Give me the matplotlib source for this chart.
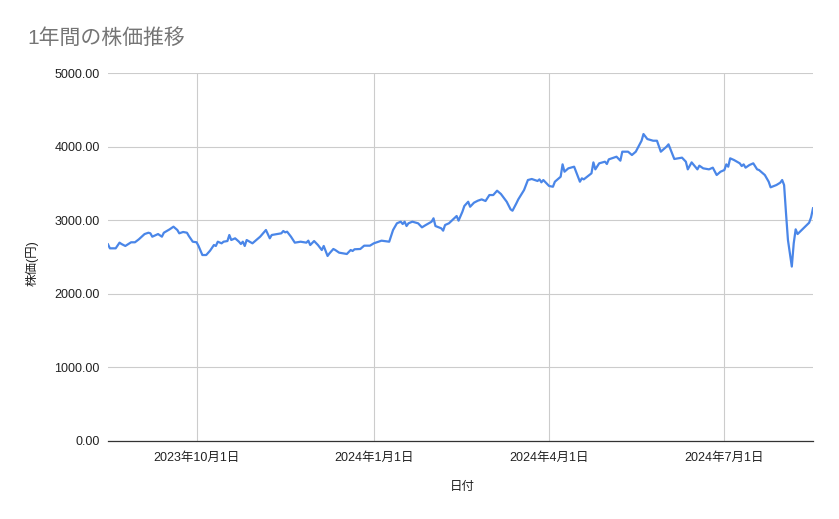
import matplotlib
matplotlib.use("Agg")
import matplotlib.pyplot as plt
import matplotlib.dates as mdates
import pandas as pd

plt.rcParams['font.family'] = ['Liberation Sans', 'Noto Sans CJK JP', 'DejaVu Sans']

# 日付と株価
dates = [
    "2023-08-16", "2023-08-17", "2023-08-20", "2023-08-22", "2023-08-23", "2023-08-25",
    "2023-08-28", "2023-08-30", "2023-09-01", "2023-09-04", "2023-09-06", "2023-09-07",
    "2023-09-08", "2023-09-10", "2023-09-11", "2023-09-13", "2023-09-14", "2023-09-17",
    "2023-09-19", "2023-09-21", "2023-09-22", "2023-09-24", "2023-09-26", "2023-09-27",
    "2023-09-29", "2023-10-01", "2023-10-02", "2023-10-04", "2023-10-06", "2023-10-08",
    "2023-10-10", "2023-10-11", "2023-10-12", "2023-10-14", "2023-10-15", "2023-10-17",
    "2023-10-18", "2023-10-19", "2023-10-21", "2023-10-23", "2023-10-24", "2023-10-25",
    "2023-10-26", "2023-10-27", "2023-10-30", "2023-11-03", "2023-11-06", "2023-11-08",
    "2023-11-09", "2023-11-14", "2023-11-15", "2023-11-16", "2023-11-17", "2023-11-19",
    "2023-11-21", "2023-11-24", "2023-11-27", "2023-11-28", "2023-11-29", "2023-12-01",
    "2023-12-03", "2023-12-05", "2023-12-06", "2023-12-08", "2023-12-09", "2023-12-11",
    "2023-12-12", "2023-12-14", "2023-12-16", "2023-12-18", "2023-12-20", "2023-12-21",
    "2023-12-22", "2023-12-25", "2023-12-27", "2023-12-30", "2024-01-01", "2024-01-05",
    "2024-01-09", "2024-01-11", "2024-01-13", "2024-01-15", "2024-01-16", "2024-01-17",
    "2024-01-18", "2024-01-19", "2024-01-21", "2024-01-24", "2024-01-26", "2024-01-28",
    "2024-01-31", "2024-02-01", "2024-02-02", "2024-02-05", "2024-02-06", "2024-02-07",
    "2024-02-09", "2024-02-13", "2024-02-14", "2024-02-16", "2024-02-17", "2024-02-19",
    "2024-02-20", "2024-02-22", "2024-02-24", "2024-02-26", "2024-02-28", "2024-03-01",
    "2024-03-03", "2024-03-05", "2024-03-07", "2024-03-10", "2024-03-12", "2024-03-13",
    "2024-03-15", "2024-03-16", "2024-03-19", "2024-03-21", "2024-03-23", "2024-03-26",
    "2024-03-27", "2024-03-28", "2024-03-29", "2024-04-01", "2024-04-03", "2024-04-04",
    "2024-04-07", "2024-04-08", "2024-04-09", "2024-04-11", "2024-04-14", "2024-04-17",
    "2024-04-18", "2024-04-19", "2024-04-23", "2024-04-24", "2024-04-25", "2024-04-27",
    "2024-04-30", "2024-05-01", "2024-05-02", "2024-05-06", "2024-05-08", "2024-05-09",
    "2024-05-12", "2024-05-14", "2024-05-16", "2024-05-19", "2024-05-20", "2024-05-22",
    "2024-05-25", "2024-05-27", "2024-05-29", "2024-06-01", "2024-06-02", "2024-06-05",
    "2024-06-07", "2024-06-09", "2024-06-11", "2024-06-12", "2024-06-14", "2024-06-17",
    "2024-06-18", "2024-06-20", "2024-06-23", "2024-06-25", "2024-06-27", "2024-06-29",
    "2024-07-01", "2024-07-02", "2024-07-03", "2024-07-04", "2024-07-06", "2024-07-09",
    "2024-07-10", "2024-07-11", "2024-07-12", "2024-07-14", "2024-07-16", "2024-07-18",
    "2024-07-19", "2024-07-22", "2024-07-24", "2024-07-25", "2024-07-28", "2024-07-30",
    "2024-07-31", "2024-08-01", "2024-08-02", "2024-08-03", "2024-08-05", "2024-08-06",
    "2024-08-07", "2024-08-08", "2024-08-11", "2024-08-14", "2024-08-15", "2024-08-16",
]
prices = [
    2672, 2618, 2618, 2695, 2677, 2650,
    2700, 2700, 2740, 2812, 2830, 2822,
    2776, 2799, 2812, 2776, 2830, 2876,
    2912, 2867, 2822, 2840, 2830, 2785,
    2708, 2700, 2650, 2527, 2527, 2586,
    2663, 2650, 2708, 2686, 2708, 2717,
    2799, 2731, 2754, 2708, 2677, 2708,
    2650, 2731, 2686, 2776, 2867, 2754,
    2799, 2822, 2853, 2835, 2844, 2776,
    2695, 2708, 2695, 2722, 2663, 2717,
    2663, 2595, 2650, 2514, 2550, 2609,
    2595, 2559, 2550, 2541, 2595, 2582,
    2605, 2609, 2654, 2654, 2686, 2722,
    2708, 2867, 2958, 2980, 2948, 2980,
    2921, 2958, 2980, 2958, 2903, 2935,
    2980, 3026, 2921, 2890, 2858, 2935,
    2958, 3057, 2994, 3116, 3193, 3251,
    3183, 3238, 3265, 3283, 3261, 3342,
    3342, 3401, 3356, 3251, 3148, 3129,
    3229, 3283, 3410, 3546, 3560, 3533,
    3555, 3515, 3546, 3465, 3455, 3523,
    3591, 3759, 3659, 3705, 3727, 3523,
    3569, 3555, 3637, 3786, 3691, 3773,
    3795, 3764, 3827, 3863, 3809, 3931,
    3931, 3886, 3931, 4080, 4171, 4103,
    4080, 4080, 3931, 4000, 4031, 3832,
    3841, 3850, 3795, 3691, 3786, 3691,
    3741, 3705, 3691, 3714, 3614, 3659,
    3682, 3759, 3727, 3841, 3818, 3773,
    3736, 3759, 3714, 3750, 3773, 3691,
    3682, 3614, 3523, 3447, 3478, 3510,
    3546, 3478, 3093, 2731, 2370, 2686,
    2876, 2812, 2890, 2966, 3039, 3162,
]

x_ticks = ["2023-10-01", "2024-01-01", "2024-04-01", "2024-07-01"]
y_ticks = [0, 1000, 2000, 3000, 4000, 5000]

dt = pd.to_datetime(dates)

fig = plt.figure(figsize=(8.39, 5.19), dpi=100)
ax = fig.add_axes([0.1287, 0.1503, 0.9690 - 0.1287, 0.8593 - 0.1503])

ax.plot(dt, prices, color='#4a86e8', linewidth=1.6, solid_joinstyle='round')

ax.set_xlim(dt[0], dt[-1])
ax.set_ylim(0, 5000)
ax.set_yticks(y_ticks)
ax.set_yticklabels([f"{v:.2f}" for v in y_ticks])
ax.set_xticks(pd.to_datetime(x_ticks))
ax.xaxis.set_major_formatter(
    plt.FuncFormatter(lambda v, p: (lambda d: f"{d.year}年{d.month}月{d.day}日")(mdates.num2date(v))))

# グリッドと枠線
ax.grid(True, color='#cccccc', linewidth=0.8)
ax.set_axisbelow(True)
for s in ['top', 'right', 'left']:
    ax.spines[s].set_visible(False)
ax.spines['bottom'].set_color('#333333')
ax.spines['bottom'].set_linewidth(0.9)
ax.tick_params(length=0, labelsize=9, colors='#222222')
ax.tick_params(axis='x', pad=8)
ax.tick_params(axis='y', pad=6)

ax.set_xlabel("日付", fontsize=9, color='#222222')
ax.set_ylabel("株価(円)", fontsize=9, color='#222222')
ax.xaxis.set_label_coords(0.502, -0.125)
ax.yaxis.set_label_coords(-0.108, 0.484)
ax.xaxis.label.set_va('center')
ax.yaxis.label.set_va('center')

fig.text(27 / 839, 1 - 38 / 519, "1年間の株価推移", fontsize=15, color='#757575',
         va='center', ha='left')

fig.savefig("out.png", dpi=100)
